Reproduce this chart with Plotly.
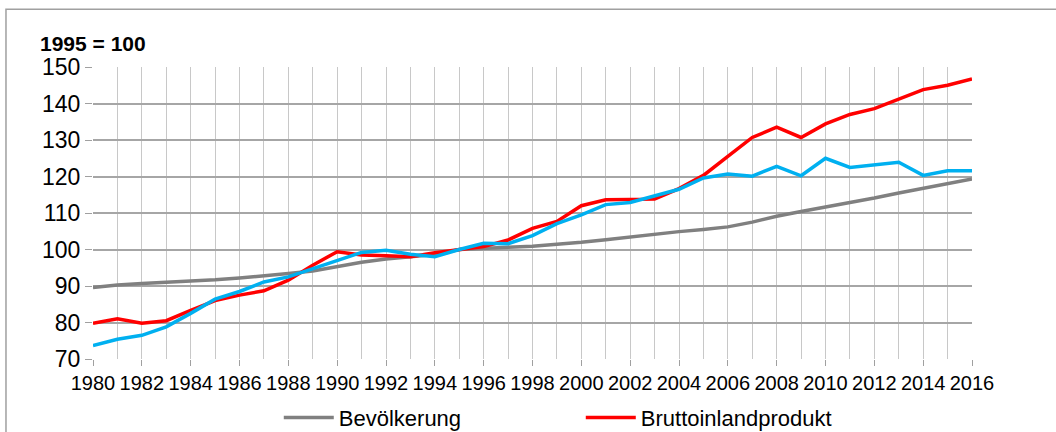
import plotly.graph_objects as go

years = list(range(1980, 2017))

bevoelkerung = [89.6, 90.3, 90.7, 91.0, 91.4, 91.7, 92.2, 92.7, 93.4, 94.1,
                95.3, 96.5, 97.4, 98.0, 98.6, 100.0, 100.4, 100.6, 100.9, 101.4,
                102.0, 102.7, 103.5, 104.2, 104.9, 105.5, 106.2, 107.5, 109.1, 110.4,
                111.6, 112.9, 114.1, 115.5, 116.8, 118.0, 119.3]

bip = [79.8, 81.0, 79.8, 80.5, 83.3, 86.0, 87.5, 88.7, 91.6, 95.7,
       99.4, 98.5, 98.3, 98.0, 99.1, 100.0, 100.8, 102.6, 105.8, 107.7,
       112.0, 113.6, 113.8, 113.8, 116.7, 120.3, 125.5, 130.7, 133.5, 130.7,
       134.4, 137.0, 138.6, 141.1, 143.8, 145.0, 146.7]

dritte_reihe = [73.7, 75.4, 76.5, 78.8, 82.5, 86.4, 88.5, 91.1, 92.5, 94.8,
                97.1, 99.2, 99.8, 98.7, 98.0, 100.0, 101.7, 101.6, 103.8, 107.1,
                109.5, 112.3, 112.9, 114.7, 116.5, 119.6, 120.7, 120.1, 122.8, 120.2,
                125.0, 122.5, 123.2, 123.9, 120.3, 121.6, 121.6]

font = "Liberation Sans, Arial, sans-serif"

fig = go.Figure()
fig.add_trace(go.Scatter(x=years, y=bevoelkerung, mode="lines", name="Bevölkerung",
                         line=dict(color="#808080", width=3.5)))
fig.add_trace(go.Scatter(x=years, y=bip, mode="lines", name="Bruttoinlandprodukt",
                         line=dict(color="#ff0000", width=3.5)))
fig.add_trace(go.Scatter(x=years, y=dritte_reihe, mode="lines", showlegend=False,
                         line=dict(color="#00b0f0", width=3.5)))

fig.update_xaxes(range=[1980, 2016], dtick=2, tick0=1980, showgrid=True,
                 gridcolor="#c8c8c8", gridwidth=1,
                 minor=dict(dtick=1, showgrid=True, gridcolor="#c8c8c8", gridwidth=1),
                 ticks="outside", ticklen=6, tickcolor="#a0a0a0",
                 zeroline=False, showline=False, automargin=False,
                 tickfont=dict(family=font, size=20, color="#000"))
fig.update_yaxes(range=[70, 150], dtick=10, showgrid=True, gridcolor="#a6a6a6",
                 gridwidth=1.5, ticks="outside", ticklen=7, tickcolor="#a0a0a0",
                 zeroline=False, showline=False, automargin=False,
                 tickfont=dict(family=font, size=23, color="#000"))

fig.add_annotation(text="<b>1995 = 100</b>", xref="paper", yref="paper",
                   x=-0.063, y=1.082, xanchor="left", yanchor="middle",
                   showarrow=False, font=dict(family=font, size=21, color="#000"))

# outer chart border
fig.add_shape(type="rect", xref="paper", yref="paper",
              x0=-0.099, x1=1.2, y0=-0.4, y1=1.198,
              line=dict(color="#a0a0a0", width=1.5), layer="below")

fig.update_layout(
    width=1056, height=432,
    margin=dict(l=93, r=84, t=67, b=73),
    paper_bgcolor="white", plot_bgcolor="white",
    font=dict(family=font, color="#000"),
    legend=dict(orientation="h", xref="container", yref="container",
                x=0.264, xanchor="left", y=0.033, yanchor="middle",
                entrywidth=237, entrywidthmode="pixels",
                font=dict(family=font, size=22), itemwidth=50),
)

# page without the default body margin so the figure sits at the window corner
fig.write_html("out.html", config={"displayModeBar": False},
               post_script="document.body.style.margin='0';")
